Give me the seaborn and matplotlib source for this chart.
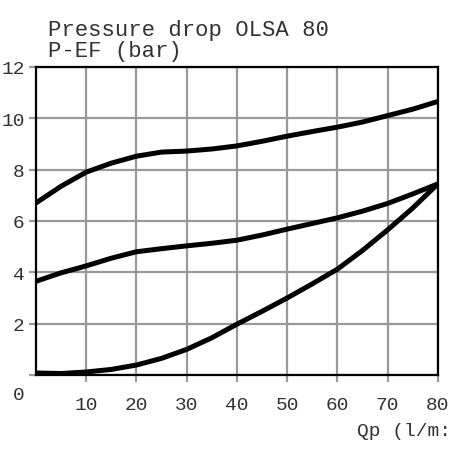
#!/usr/bin/env python3
import numpy as np
import pandas as pd
import matplotlib
matplotlib.use("Agg")
import matplotlib.pyplot as plt
import matplotlib.transforms as mtransforms
import seaborn as sns

# flow (l/min) and pressure drop (bar)
qp = [0, 5, 10, 15, 20, 25, 30, 35, 40, 45, 50, 55, 60, 65, 70, 75, 80]
upper = [6.7, 7.35, 7.9, 8.25, 8.52, 8.68, 8.72, 8.8, 8.92, 9.1, 9.3,
         9.48, 9.65, 9.85, 10.1, 10.35, 10.65]
middle = [3.65, 3.98, 4.25, 4.55, 4.8, 4.92, 5.03, 5.13, 5.25, 5.45, 5.68,
          5.9, 6.12, 6.38, 6.68, 7.05, 7.44]
lower = [0.08, 0.06, 0.12, 0.22, 0.39, 0.65, 1.0, 1.45, 1.98, 2.48, 3.0,
         3.55, 4.12, 4.85, 5.65, 6.5, 7.44]

xticks = [10, 20, 30, 40, 50, 60, 70, 80]
yticks = [0, 2, 4, 6, 8, 10, 12]

sns.set_theme(style="whitegrid", rc={
    "grid.color": "#999999",
    "grid.linewidth": 1.6,
    "axes.edgecolor": "black",
    "axes.linewidth": 1.6,
})
plt.rcParams["font.family"] = ["Liberation Mono", "DejaVu Sans Mono"]

df = pd.DataFrame({
    "Qp": qp * 3,
    "dp": upper + middle + lower,
    "curve": ["upper"] * len(qp) + ["middle"] * len(qp) + ["lower"] * len(qp),
})

fig = plt.figure(figsize=(4.52, 4.52), dpi=100)
ax = fig.add_axes([0.0796, 0.168, 0.889, 0.682])

sns.lineplot(data=df, x="Qp", y="dp", hue="curve", units="curve",
             estimator=None, palette=["black"] * 3, linewidth=3.6,
             legend=False, ax=ax)

ax.set_xlim(0, 80)
ax.set_ylim(0, 12)
ax.set_xticks(xticks)
ax.set_yticks(yticks)
ax.set_xlabel("")
ax.set_ylabel("")
ax.tick_params(axis="both", direction="out", length=5, width=1.6,
               color="#999999", labelsize=14, labelcolor="#333333",
               bottom=True, left=True)
ax.tick_params(axis="x", pad=10)
ax.tick_params(axis="y", pad=3)
for s in ax.spines.values():
    s.set_visible(True)

# the "0" label sits lower than its tick in the original
fig.canvas.draw()
lab0 = ax.get_yticklabels()[0]
lab0.set_transform(lab0.get_transform() +
                   mtransforms.ScaledTranslation(0, -0.17, fig.dpi_scale_trans))

fig.text(48 / 452, 1 - 36 / 452, "Pressure drop OLSA 80", fontsize=16,
         va="baseline", color="#333333")
fig.text(48 / 452, 1 - 57 / 452, "P-EF (bar)", fontsize=16,
         va="baseline", color="#333333")
fig.text(451 / 452, 1 - 436 / 452, "Qp (l/m:", fontsize=14, ha="right",
         va="baseline", color="#333333")

fig.savefig("out.png", dpi=100)
print("Saved out.png")
